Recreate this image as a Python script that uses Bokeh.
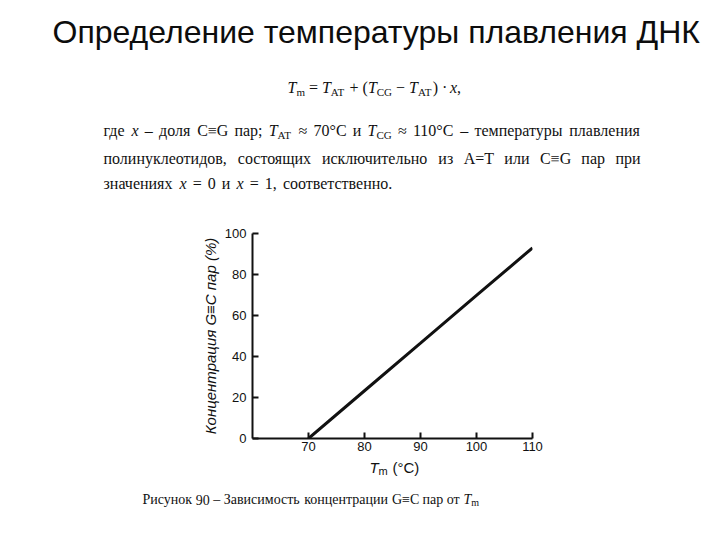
from bokeh.plotting import figure
from bokeh.models import Label, Range1d, FixedTicker
from bokeh.layouts import column, row
from bokeh.embed import file_html
from bokeh.resources import INLINE

# ---------------- data ----------------
tm_values = [70, 80, 90, 100, 110]          # melting temperature, deg C
gc_percent = [0.0, 23.3, 46.5, 69.8, 93.0]  # G≡C pair concentration, %
x_ticks = [70, 80, 90, 100, 110]
y_ticks = [0, 20, 40, 60, 80, 100]

title_text = "Определение температуры плавления ДНК"
y_title = "Концентрация G≡C пар (%)"
line2_text = "полинуклеотидов, состоящих исключительно из A=T или C≡G пар при"

# ---------------- page geometry (page pixels) ----------------
PW, PH = 716, 536
X0, X1, Y0, Y1 = 60, 110, 0, 100
FL, FR, FT, FB = 252, 532, 233, 438      # chart frame on page
TOP_H = 215                               # text block above chart
LEFT_W = 100                              # blank strip left of chart figure
CH_BOT = 458                              # bottom of chart figure


def text_fig(x_left, y_top, w, h):
    f = figure(width=w, height=h, output_backend="svg", toolbar_location=None,
               x_range=Range1d(x_left, x_left + w),
               y_range=Range1d(y_top + h, y_top),
               x_axis_type=None, y_axis_type=None,
               min_border=0, min_border_left=0, min_border_right=0,
               min_border_top=0, min_border_bottom=0)
    f.outline_line_color = None
    f.grid.visible = False
    f.background_fill_color = "white"
    f.border_fill_color = "white"
    return f


def put(f, txt, px, py, size, font="Liberation Serif", style="normal",
        align="left", baseline="middle", angle=0.0, color="#111111"):
    f.add_layout(Label(x=px, y=py, text=txt, text_font=font,
                       text_font_size=f"{size}px", text_font_style=style,
                       text_align=align, text_baseline=baseline, angle=angle,
                       text_color=color))


SERIF = {' ': 250, 'T': 611, 'A': 722, 'C': 667, 'G': 722, 'm': 778, 'x': 500,
         '=': 564, '+': 564, '(': 333, ')': 333, '−': 564, '·': 250, ',': 250,
         '≈': 549, '°': 400, ';': 278, '.': 250, '–': 500, '≡': 549,
         'а': 444, 'б': 500, 'в': 472, 'г': 410, 'д': 509, 'е': 444, 'ж': 695,
         'з': 395, 'и': 535, 'й': 535, 'к': 486, 'л': 503, 'м': 625, 'н': 535,
         'о': 500, 'п': 535, 'р': 500, 'с': 444, 'т': 437, 'у': 500, 'ф': 648,
         'х': 500, 'ц': 535, 'ч': 503, 'ш': 770, 'щ': 770, 'ъ': 517, 'ы': 672,
         'ь': 456, 'э': 429, 'ю': 747, 'я': 479, 'Р': 556, 'З': 600}
SERIF_I = {'T': 556, 'x': 444, 'm': 722}


def tw(s, size, style="normal"):
    tot = 0
    for ch in s:
        if style == "italic" and ch in SERIF_I:
            tot += SERIF_I[ch]
        else:
            tot += SERIF.get(ch, 500)
    return tot * size / 1000.0


def layout(f, segs, x0, mid, x_end=None):
    """segs: list of (text, size, style, shift). Words placed one by one."""
    items = []
    for text, size, style, shift in segs:
        buf = ""
        for ch in text:
            if ch == " ":
                if buf:
                    items.append(("w", buf, size, style, shift))
                    buf = ""
                items.append(("s", " ", size, style, shift))
            else:
                buf += ch
        if buf:
            items.append(("w", buf, size, style, shift))
    natural = sum(tw(t, sz, st) for _, t, sz, st, _ in items)
    nsp = sum(1 for k, *_ in items if k == "s")
    extra = 0.0
    if x_end is not None and nsp:
        extra = max(0.0, (x_end - x0 - natural) / nsp)
    x = x0
    for kind, t, sz, st, sh in items:
        if kind == "s":
            x += tw(" ", sz) + extra
        else:
            put(f, t, x, mid + sh, sz, style=st)
            x += tw(t, sz, st)


N, I = "normal", "italic"

# ---------------- top text block ----------------
top = text_fig(0, 0, PW, TOP_H)
put(top, title_text, 52, 31, 32, font="Liberation Sans", color="#0d0d0d")

formula = [("T", 16, I, 0), ("m", 11, N, 4), (" = ", 16, N, 0), ("T", 16, I, 0),
           ("AT", 11, N, 4), (" + (", 16, N, 0), ("T", 16, I, 0), ("CG", 11, N, 4),
           (" − ", 16, N, 0), ("T", 16, I, 0), ("AT", 11, N, 4), (") · ", 16, N, 0),
           ("x", 16, I, 0), (",", 16, N, 0)]
layout(top, formula, 287, 87)

line1 = [("где ", 16, N, 0), ("x", 16, I, 0), (" – доля C≡G пар; ", 16, N, 0),
         ("T", 16, I, 0), ("AT", 11, N, 4), (" ≈ 70°C и ", 16, N, 0),
         ("T", 16, I, 0), ("CG", 11, N, 4),
         (" ≈ 110°C – температуры плавления", 16, N, 0)]
layout(top, line1, 103, 130, x_end=640)
layout(top, [(line2_text, 16, N, 0)], 103, 158, x_end=640)
line3 = [("значениях ", 16, N, 0), ("x", 16, I, 0), (" = 0 и ", 16, N, 0),
         ("x", 16, I, 0), (" = 1, соответственно.", 16, N, 0)]
layout(top, line3, 103, 183, x_end=392)

# ---------------- blank strip + chart ----------------
ch = CH_BOT - TOP_H
left = text_fig(0, TOP_H, LEFT_W, ch)

p = figure(width=PW - LEFT_W, height=ch, output_backend="svg", toolbar_location=None,
           x_range=Range1d(X0, X1), y_range=Range1d(Y0, Y1),
           min_border_left=FL - LEFT_W, min_border_right=PW - FR,
           min_border_top=FT - TOP_H, min_border_bottom=CH_BOT - FB)
p.outline_line_color = None
p.grid.visible = False
p.background_fill_color = "white"
p.border_fill_color = "white"

for ax in (p.xaxis[0], p.yaxis[0]):
    ax.axis_line_color = "#111111"
    ax.axis_line_width = 2
    ax.major_tick_line_color = "#111111"
    ax.major_tick_line_width = 2
    ax.major_tick_in = 6
    ax.major_tick_out = 0
    ax.minor_tick_line_color = None
    ax.major_label_text_font = "Liberation Sans"
    ax.major_label_text_font_size = "13px"
    ax.major_label_text_color = "#111111"
p.xaxis[0].ticker = FixedTicker(ticks=x_ticks)
p.yaxis[0].ticker = FixedTicker(ticks=y_ticks)
p.xaxis[0].major_label_standoff = 3
p.yaxis[0].major_label_standoff = 6

yax = p.yaxis[0]
yax.axis_label = y_title
yax.axis_label_text_font = "Liberation Sans"
yax.axis_label_text_font_style = "italic"
yax.axis_label_text_font_size = "15px"
yax.axis_label_text_color = "#111111"
yax.axis_label_standoff = 3

p.line(tm_values, gc_percent, line_color="#111111", line_width=3)

# ---------------- bottom block: x title + caption ----------------
bot = text_fig(0, CH_BOT, PW, PH - CH_BOT)
put(bot, "T", 369, 467, 15, font="Liberation Sans", style="italic")
put(bot, "m", 378, 470, 11, font="Liberation Sans")
put(bot, "(°C)", 392, 467, 15, font="Liberation Sans")

caption = [("Рисунок 90 – Зависимость концентрации G≡C пар от ", 14, N, 0),
           ("T", 14, I, 0), ("m", 10, N, 3)]
layout(bot, caption, 142, 499)

page = column(top, row(left, p), bot)
open("out.html", "w").write(file_html(page, INLINE))
